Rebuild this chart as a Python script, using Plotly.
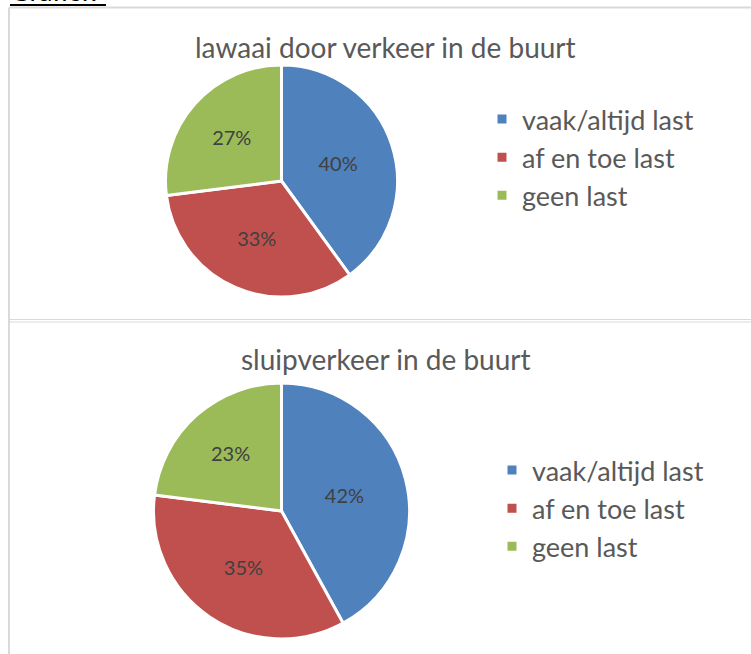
import plotly.graph_objects as go

categories = ["vaak/altijd last", "af en toe last", "geen last"]
lawaai_values = [40, 33, 27]
sluip_values = [42, 35, 23]
title_lawaai = "lawaai door verkeer in de buurt"
title_sluip = "sluipverkeer in de buurt"
colors = ["#4F81BD", "#C0504D", "#9BBB59"]

W, H = 751, 654
FONT = "Lato, 'Open Sans', sans-serif"


def px(x):
    return x / W


def py(y):
    return 1 - y / H


# pie legend entries are shared by label across traces; a trailing space
# keeps the second chart's legend separate while looking identical
categories_second = [c + " " for c in categories]

fig = go.Figure()

fig.add_trace(go.Pie(
    labels=categories, values=lawaai_values, sort=False, direction="clockwise", rotation=0,
    marker=dict(colors=colors, line=dict(color="white", width=3)),
    textinfo="percent", textposition="inside", insidetextorientation="horizontal",
    texttemplate="%{percent:.0%}",
    textfont=dict(size=20, color="#404040", family=FONT),
    domain=dict(x=[px(165.5), px(397.5)], y=[py(297), py(65)]),
    legend="legend", hoverinfo="label+percent",
))
fig.add_trace(go.Pie(
    labels=categories_second, values=sluip_values, sort=False, direction="clockwise", rotation=0,
    marker=dict(colors=colors, line=dict(color="white", width=3)),
    textinfo="percent", textposition="inside", insidetextorientation="horizontal",
    texttemplate="%{percent:.0%}",
    textfont=dict(size=20, color="#404040", family=FONT),
    domain=dict(x=[px(153.5), px(409.5)], y=[py(639), py(383)]),
    legend="legend2", hoverinfo="label+percent",
))

line_col = "#D9D9D9"
shapes = [
    dict(type="line", xref="paper", yref="paper", x0=px(9), x1=1, y0=py(7.5), y1=py(7.5), line=dict(color=line_col, width=2)),
    dict(type="line", xref="paper", yref="paper", x0=px(9), x1=px(9), y0=py(7.5), y1=0, line=dict(color=line_col, width=2)),
    dict(type="line", xref="paper", yref="paper", x0=px(9), x1=1, y0=py(319.5), y1=py(319.5), line=dict(color=line_col, width=1.2)),
    dict(type="line", xref="paper", yref="paper", x0=px(9), x1=1, y0=py(322), y1=py(322), line=dict(color=line_col, width=1.2)),
    dict(type="line", xref="paper", yref="paper", x0=px(10), x1=px(106), y0=py(5), y1=py(5), line=dict(color="black", width=2)),
]

annotations = [
    dict(text=title_lawaai, x=px(385), y=py(47), xref="paper", yref="paper", showarrow=False,
         xanchor="center", yanchor="middle", font=dict(size=28, color="#595959", family=FONT)),
    dict(text=title_sluip, x=px(386), y=py(359), xref="paper", yref="paper", showarrow=False,
         xanchor="center", yanchor="middle", font=dict(size=28, color="#595959", family=FONT)),
    dict(text="Grafiek", x=px(8), y=py(-9), xref="paper", yref="paper", showarrow=False,
         xanchor="left", yanchor="middle", font=dict(size=27, color="black", family=FONT)),
]

fig.update_layout(
    width=W, height=H, margin=dict(l=0, r=0, t=0, b=0),
    paper_bgcolor="white", plot_bgcolor="white",
    shapes=shapes, annotations=annotations,
    legend=dict(x=px(482), y=py(95), xanchor="left", yanchor="top",
                font=dict(size=27, color="#595959", family=FONT), bgcolor="rgba(0,0,0,0)"),
    legend2=dict(x=px(492), y=py(446), xanchor="left", yanchor="top",
                 font=dict(size=27, color="#595959", family=FONT), bgcolor="rgba(0,0,0,0)"),
)

fig.write_html("out.html", config={"displayModeBar": False},
               post_script="document.body.style.margin='0';document.body.style.overflow='hidden';")
